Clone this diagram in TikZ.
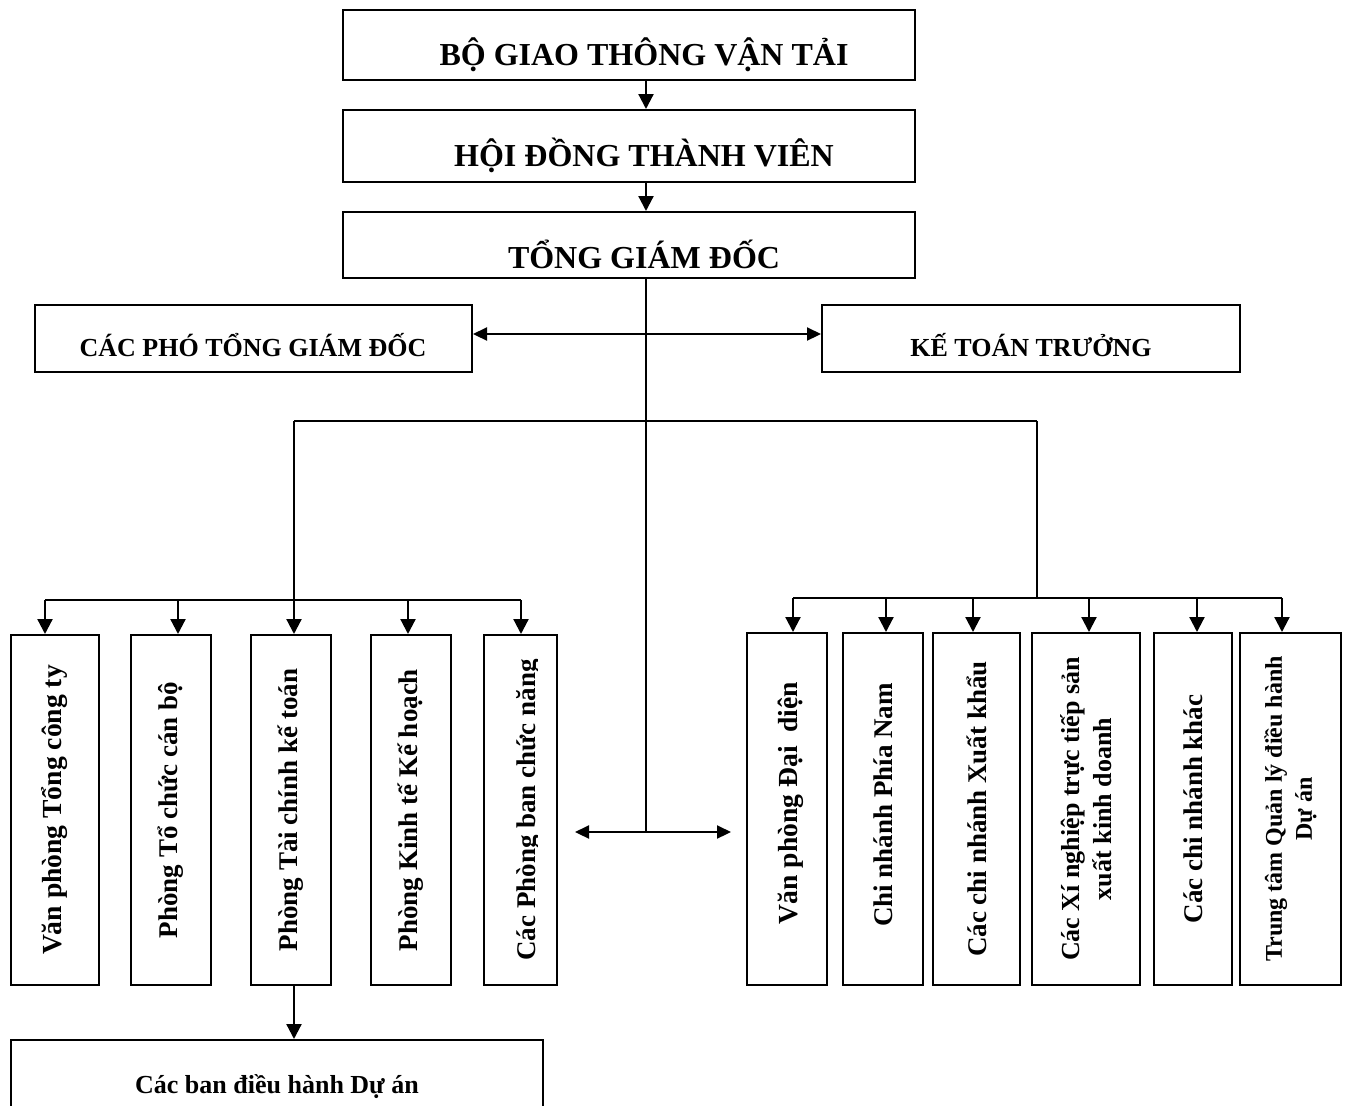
\documentclass[tikz,border=0pt]{standalone}
\usepackage{fontspec}
\setmainfont{Liberation Serif}
\usetikzlibrary{arrows.meta,fit}
\tikzset{
  box/.style={draw, line width=1pt, inner sep=0pt},
  conn/.style={line width=1.1pt},
  thinconn/.style={line width=0.8pt},
  arr/.style={conn, -{Triangle[length=7.5pt,width=7.5pt]}},
  darr/.style={conn, {Triangle[length=7pt,width=6.5pt]}-{Triangle[length=7pt,width=6.5pt]}},
  big/.style={font=\bfseries\fontsize{16}{19}\selectfont, anchor=base, inner sep=0pt},
  mid/.style={font=\bfseries\fontsize{13}{15}\selectfont, anchor=base, inner sep=0pt},
  vt/.style={font=\bfseries\fontsize{13.5}{16}\selectfont, rotate=90, align=center, inner sep=0pt},
}
\begin{document}
\begin{tikzpicture}[x=0.5pt,y=-0.5pt]
\fill[white] (0,0) rectangle (1346,1105);
\useasboundingbox (0,0) rectangle (1346,1105);

% top chain
\node[box, fit={(343,10) (915,80)}] (bgt) {};
\node[big] (bgtT) at (644,65) {BỘ GIAO THÔNG VẬN TẢI};
\node[box, fit={(343,110) (915,182)}] (hdtv) {};
\node[big] (hdtvT) at (644,166) {HỘI ĐỒNG THÀNH VIÊN};
\node[box, fit={(343,212) (915,278)}] (tgd) {};
\node[big] (tgdT) at (644,268) {TỔNG GIÁM ĐỐC};
\coordinate (sp) at (646,0);
\draw[arr] (bgt.south -| sp) -- (hdtv.north -| sp);
\draw[arr] (hdtv.south -| sp) -- (tgd.north -| sp);

% deputies and chief accountant
\node[box, fit={(35,305) (472,372)}] (cpg) {};
\node[mid] (cpgT) at (253,356) {CÁC PHÓ TỔNG GIÁM ĐỐC};
\node[box, fit={(822,305) (1240,372)}] (ktt) {};
\node[mid] (kttT) at (1031,356) {KẾ TOÁN TRƯỞNG};
\coordinate (dy) at (0,334);
\draw[darr] (cpg.east |- dy) -- (ktt.west |- dy);

% central spine
\coordinate (cm) at (646,832);
\draw[thinconn] (tgd.south -| cm) -- (cm);
\coordinate (dl) at (575,832);
\coordinate (dr) at (731,832);
\draw[darr] (dl) -- (dr);

% left group boxes
\node[box, fit={(11,635) (99,985)}] (l1) {};
\node[box, fit={(131,635) (211,985)}] (l2) {};
\node[box, fit={(251,635) (331,985)}] (l3) {};
\node[box, fit={(371,635) (451,985)}] (l4) {};
\node[box, fit={(484,635) (557,985)}] (l5) {};
\node[vt, font=\bfseries\fontsize{13.8}{16}\selectfont] (l1T) at (l1.center) {Văn phòng Tổng công ty};
\node[vt] (l2T) at (l2.center) {Phòng Tổ chức cán bộ};
\node[vt] (l3T) at (l3.center) {Phòng Tài chính kế toán};
\node[vt] (l4T) at (l4.center) {Phòng Kinh tế Kế hoạch};
\begin{scope}
  \clip (486,637) rectangle (537,983);
  \node[vt, anchor=base] (l5T) at (535,810) {Các Phòng ban chức năng};
\end{scope}

% right group boxes
\node[box, fit={(747,633) (827,985)}] (r1) {};
\node[box, fit={(843,633) (923,985)}] (r2) {};
\node[box, fit={(933,633) (1020,985)}] (r3) {};
\node[box, fit={(1032,633) (1140,985)}] (r4) {};
\node[box, fit={(1154,633) (1232,985)}] (r5) {};
\node[box, fit={(1240,633) (1341,985)}] (r6) {};
\node[vt, font=\bfseries\fontsize{13.8}{16}\selectfont, xshift=3pt, yshift=-2pt] (r1T) at (r1.center) {Văn phòng Đại\ \ diện};
\node[vt, xshift=2pt] (r2T) at (r2.center) {Chi nhánh Phía Nam};
\node[vt] (r3T) at (r3.center) {Các chi nhánh Xuất khẩu};
\node[vt, font=\bfseries\fontsize{13}{16}\selectfont] (r4T) at (r4.center) {Các Xí nghiệp trực tiếp sản\\xuất kinh doanh};
\node[vt] (r5T) at (r5.center) {Các chi nhánh khác};
\node[vt, font=\bfseries\fontsize{12}{15}\selectfont] (r6T) at (r6.center) {Trung tâm Quản lý điều hành\\Dự án};

% branching from spine
\coordinate (hl) at (294,421);
\coordinate (hr) at (1037,421);
\draw[conn] (hl) -- (hr);
\draw[arr] (hl) -- (hl |- l3.north);
\coordinate (rbv) at (1037,598);
\draw[thinconn] (hr) -- (rbv);

% left bar
\coordinate (lb1) at (45,600);
\coordinate (lb2) at (178,600);
\coordinate (lb4) at (408,600);
\coordinate (lb5) at (521,600);
\draw[conn] (lb1) -- (lb5);
\draw[arr] (lb1) -- (lb1 |- l1.north);
\draw[arr] (lb2) -- (lb2 |- l2.north);
\draw[arr] (lb4) -- (lb4 |- l4.north);
\draw[arr] (lb5) -- (lb5 |- l5.north);

% right bar
\coordinate (rb1) at (793,598);
\coordinate (rb2) at (886,598);
\coordinate (rb3) at (973,598);
\coordinate (rb4) at (1089,598);
\coordinate (rb5) at (1197,598);
\coordinate (rb6) at (1282,598);
\draw[conn] (rb1) -- (rb6);
\draw[arr] (rb1) -- (rb1 |- r1.north);
\draw[arr] (rb2) -- (rb2 |- r2.north);
\draw[arr] (rb3) -- (rb3 |- r3.north);
\draw[arr] (rb4) -- (rb4 |- r4.north);
\draw[arr] (rb5) -- (rb5 |- r5.north);
\draw[arr] (rb6) -- (rb6 |- r6.north);

% project boards
\node[box, fit={(11,1040) (543,1112)}] (cbd) {};
\node[mid] (cbdT) at (277,1093) {Các ban điều hành Dự án};
\draw[arr] (hl |- l3.south) -- (hl |- cbd.north);
\end{tikzpicture}
\end{document}
